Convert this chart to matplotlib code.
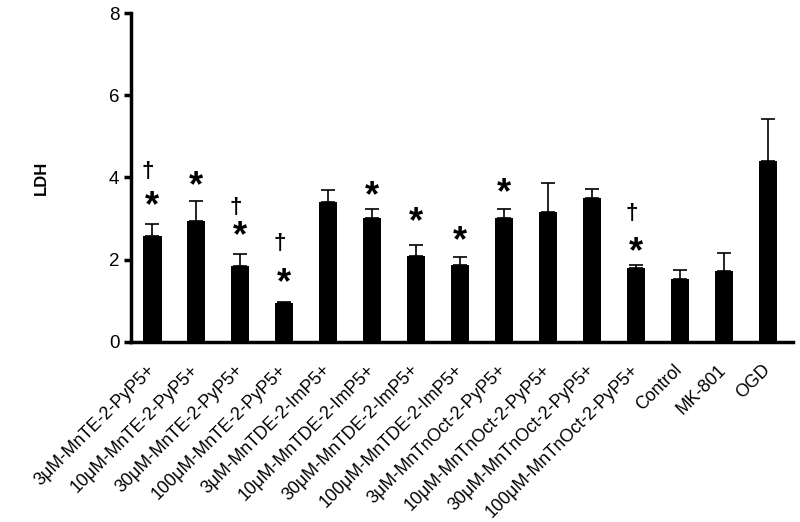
import numpy as np
import matplotlib.pyplot as plt
import matplotlib.transforms as mtransforms

plt.rcParams['font.family'] = ['Liberation Sans', 'DejaVu Sans']

# dados (LDH)
grupos = ['3μM-MnTE-2-PyP5+', '10μM-MnTE-2-PyP5+', '30μM-MnTE-2-PyP5+', '100μM-MnTE-2-PyP5+',
          '3μM-MnTDE-2-ImP5+', '10μM-MnTDE-2-ImP5+', '30μM-MnTDE-2-ImP5+', '100μM-MnTDE-2-ImP5+',
          '3μM-MnTnOct-2-PyP5+', '10μM-MnTnOct-2-PyP5+', '30μM-MnTnOct-2-PyP5+', '100μM-MnTnOct-2-PyP5+',
          'Control', 'MK-801', 'OGD']
ldh = [2.58, 2.94, 1.84, 0.95, 3.41, 3.02, 2.08, 1.88, 3.01, 3.17, 3.50, 1.81, 1.52, 1.72, 4.40]
erro = [0.29, 0.49, 0.30, 0.02, 0.29, 0.21, 0.28, 0.19, 0.22, 0.70, 0.23, 0.06, 0.22, 0.45, 1.03]

# marcas de significância
estrela_idx = [0, 1, 2, 3, 5, 6, 7, 8, 11]
estrela_y = [3.5, 4.0, 2.78, 1.63, 3.74, 3.13, 2.65, 3.82, 2.4]
adaga_idx = [0, 2, 3, 11]
adaga_y = [4.14, 3.26, 2.4, 3.13]

x = np.arange(len(grupos))

fig = plt.figure(figsize=(8, 5.22), dpi=100)
ax = fig.add_axes([0.164, 0.345, 0.827, 0.63])

ax.bar(x, ldh, width=0.42, color='black', zorder=2)
ax.errorbar(x, ldh, yerr=[np.zeros(len(erro)), erro], fmt='none', ecolor='black',
            elinewidth=1.2, capsize=5, capthick=1.2, zorder=1)

# o asterisco fica na parte de cima da caixa do glifo, desce um pouco
desce = mtransforms.offset_copy(ax.transData, fig=fig, x=0, y=-9, units='dots')
for i, yv in zip(estrela_idx, estrela_y):
    ax.text(x[i], yv, '*', ha='center', va='center', fontsize=26, fontweight='bold',
            transform=desce)
for i, yv in zip(adaga_idx, adaga_y):
    ax.text(x[i] - 0.1, yv, '†', ha='center', va='center', fontsize=16, fontweight='bold')

ax.set_xlim(-0.48, 14.57)
ax.set_ylim(0, 8)
ax.set_yticks([0, 2, 4, 6, 8])
ax.tick_params(axis='y', labelsize=13.5, width=2.5, length=5, direction='out')
ax.tick_params(axis='x', length=0, pad=14)
ax.set_xticks(x)
ax.set_xticklabels(grupos, rotation=45, ha='right', rotation_mode='anchor', fontsize=12.8)
esq = mtransforms.ScaledTranslation(-6 / 100, 0, fig.dpi_scale_trans)
for lab in ax.get_xticklabels():
    lab.set_transform(lab.get_transform() + esq)
ax.spines['top'].set_visible(False)
ax.spines['right'].set_visible(False)
ax.spines['left'].set_linewidth(2.5)
ax.spines['bottom'].set_linewidth(2.5)
ax.set_ylabel('LDH', fontsize=12, fontweight='bold', labelpad=43)

plt.savefig('out.png', dpi=100)
